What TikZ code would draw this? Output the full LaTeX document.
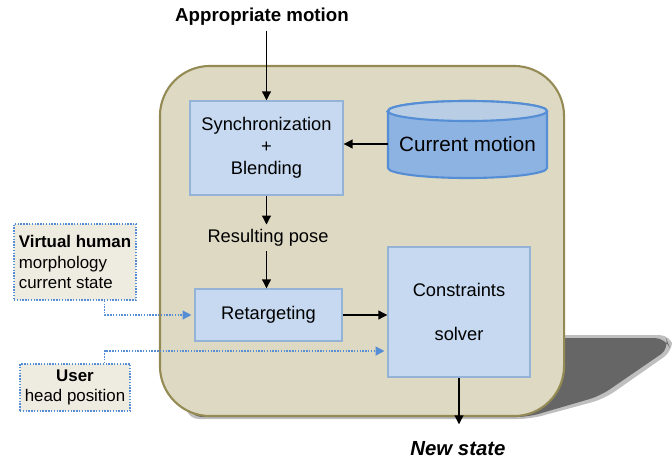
\documentclass[tikz,border=0pt]{standalone}
\usepackage{fontspec}
\setmainfont{Liberation Sans}
\usetikzlibrary{positioning, arrows.meta}

\definecolor{framefill}{HTML}{DDD9C3}
\definecolor{frameline}{HTML}{948A54}
\definecolor{boxfill}{HTML}{C6D9F1}
\definecolor{boxline}{HTML}{95B3D7}
\definecolor{cylfill}{HTML}{8DB3E2}
\definecolor{cyltop}{HTML}{B9CDE5}
\definecolor{cylline}{HTML}{558ED5}
\definecolor{notefill}{HTML}{EEECE1}
\definecolor{linkblue}{HTML}{558ED5}

\begin{document}
\begin{tikzpicture}[
        x=0.025cm, y=-0.025cm,
        >={Triangle[length=2.2mm, width=2.2mm]},
        every node/.style={font=\fontsize{13}{15.5}\selectfont},
        box/.style={draw=boxline, fill=boxfill, line width=1pt, rectangle, align=center},
        note/.style={draw=linkblue, dash pattern=on 1pt off 1pt, line width=1pt, fill=notefill, rectangle, font=\fontsize{12}{14.6}\selectfont},
        link/.style={->, thick},
        dotlink/.style={->, draw=linkblue, line width=1pt, dash pattern=on 1pt off 1pt, shorten >=2pt, >={Triangle[length=2.2mm, width=2.2mm, fill=linkblue]}}
    ]
    \useasboundingbox (0,0) rectangle (672,460);

    % shadow and frame
    \fill[black!25, rounded corners=9pt] (186,419) -- (530,419) -- (604,399) -- (674,350) -- (672,335) -- (186,335) -- cycle;
    \fill[black!60, rounded corners=8pt] (190,417) -- (528,417) -- (600,396) -- (670,348) -- (666,338) -- (190,338) -- cycle;
    \node[draw=frameline, fill=framefill, line width=1.5pt, rounded corners=1.25cm,
          minimum width=10.1cm, minimum height=8.75cm] (frame) at (362,241) {};

    % current motion store
    \filldraw[fill=cylfill, draw=cylline, line width=1.5pt] (388,111) -- (388,168)
        arc[start angle=180, end angle=360, x radius=1.9875cm, y radius=0.25cm] -- (547,111)
        arc[start angle=0, end angle=180, x radius=1.9875cm, y radius=0.25cm] -- cycle;
    \filldraw[fill=cyltop, draw=cylline, line width=1.5pt] (467.5,111) ellipse[x radius=1.9875cm, y radius=0.25cm];
    \node[minimum width=3.975cm, font=\fontsize{14.7}{17}\selectfont] (cur) at (467.5,144) {Current motion};

    \node[font=\bfseries\fontsize{13.3}{16}\selectfont] (appr) at (262,17) {Appropriate motion};
    \node[box, minimum width=3.825cm, minimum height=2.35cm] (sync) at (266.5,148) {Synchronization\\+\\Blending};
    \node (pose) at (268,238) {Resulting pose};
    \node[box, minimum width=3.675cm, minimum height=1.3cm] (retarget) at (268.5,315) {Retargeting};
    \node[box, minimum width=3.55cm, minimum height=3.25cm] (solver) at (459,312) {Constraints\\[16pt]solver};
    \node[font=\bfseries\itshape\fontsize{14.5}{17}\selectfont] (state) at (458,449) {New state};

    \node[note, minimum width=3.05cm, minimum height=1.9cm, align=left] (virt) at (75,262) {\textbf{Virtual human}\\morphology\\current state};
    \node[note, minimum width=2.75cm, minimum height=1.175cm, align=center] (user) at (75,387.5) {\textbf{User}\\head position};

    \draw[link] (appr.south -| sync.north) -- (sync.north);
    \draw[link] (cur.west) -- (cur.west -| sync.east);
    \draw[link] (sync.south) -- (sync.south |- pose.north);
    \draw[link] (sync.south |- pose.south) -- (sync.south |- retarget.north);
    \draw[link] (retarget.east) -- (retarget.east -| solver.west);
    \draw[link, shorten >=9pt] (solver.south) -- (solver.south |- state.north);

    \draw[dotlink] ([xshift=-0.8cm]virt.south east) |- (retarget.west);
    \draw[dotlink] ([xshift=-0.65cm]user.north east) |- ([yshift=-0.975cm]solver.west);

\end{tikzpicture}
\end{document}
